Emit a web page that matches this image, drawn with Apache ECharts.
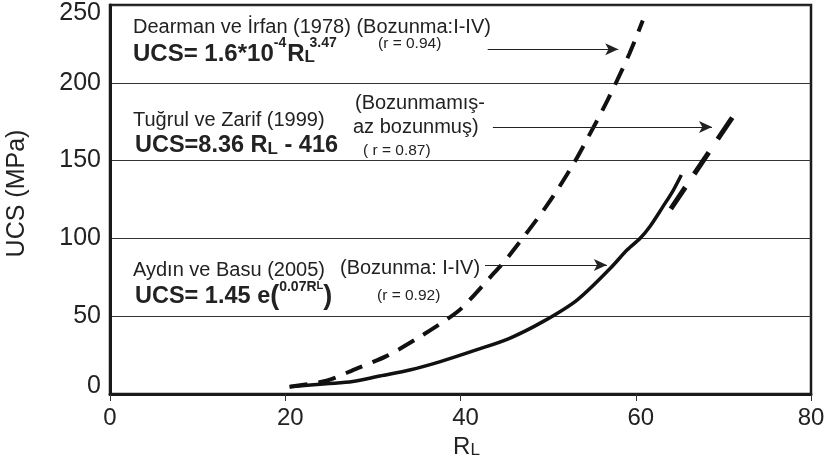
<!DOCTYPE html>
<html>
<head>
<meta charset="utf-8">
<script src="https://cdn.jsdelivr.net/npm/echarts@6/dist/echarts.min.js"></script>
<style>
  html, body { margin: 0; padding: 0; background: #fff; }
  #chart { width: 825px; height: 466px; }
</style>
</head>
<body>
<div id="chart"></div>
<script>
// Axis ticks
const xTicks = [0, 20, 40, 60, 80];
const yTicks = [0, 50, 100, 150, 200, 250];

// Dearman ve İrfan (1978) curve: RL and UCS (MPa)
const dearmanRL  = [20.5, 24.7, 28.2, 31.6, 35.0, 38.2, 40.1, 43.7, 45.5, 49.9, 52.8, 54.8, 56.8, 59.3, 60.8];
const dearmanUCS = [4.7, 8.5, 16.5, 24.5, 35.5, 47.0, 55.0, 77.0, 88.5, 121.5, 147, 167.5, 189, 219, 240];

// Aydın ve Basu (2005) curve
const aydinRL  = [20.5, 24.7, 27.7, 30.8, 34.2, 37.7, 41.8, 45.6, 49.4, 53.3, 57.1, 59.0, 60.5, 61.6, 63.1, 64.3, 65.2];
const aydinUCS = [4.7, 6.6, 8.0, 11.6, 15.4, 20.8, 28.3, 35.8, 46.5, 60.4, 80.8, 92.5, 100.1, 107.5, 120.4, 131.1, 140.7];

// Tuğrul ve Zarif (1999) line: UCS = 8.36 RL - 416
const tugrulRL  = [64.0, 72.0];
const tugrulUCS = [119.0, 185.9];

// Pointer arrows from each annotation to its curve: [RL, UCS] start and end
const arrowDearman = [[43.1, 221.5], [58.0, 221.5]];
const arrowTugrul  = [[43.7, 171.6], [68.7, 171.6]];
const arrowAydin   = [[42.8, 82.9], [56.7, 82.9]];

const pair = (xs, ys) => xs.map((x, i) => [x, ys[i]]);

const FONT_NAME = 'Liberation Sans';
const FONT = "'Liberation Sans', Arial, Helvetica, sans-serif";
const INK = '#222222';

const chart = echarts.init(document.getElementById('chart'), null, { renderer: 'canvas' });

function arrowLine(seg) {
  return [{ coord: seg[0] }, { coord: seg[1] }];
}

function txt(x, y, text, size) {
  return {
    type: 'text', x: x, y: y, z: 10,
    style: {
      text: text, fontFamily: FONT, fontSize: size, fill: INK,
      verticalAlign: 'middle', align: 'left'
    }
  };
}

// Equations are laid out piece by piece: each piece has its own size and a
// vertical offset (superscripts up, the small "L" slightly down).
const measureCtx = document.createElement('canvas').getContext('2d');
function measure(text, size, bold) {
  measureCtx.font = (bold ? 'bold ' : '') + size + "px '" + FONT_NAME + "', Arial, sans-serif";
  return measureCtx.measureText(text).width;
}
function equation(x, y, pieces) {
  const out = [];
  let cx = x;
  pieces.forEach(function (p) {
    cx += p.gap || 0;
    out.push({
      type: 'text', x: cx, y: y + (p.dy || 0), z: 10,
      style: {
        text: p.t, fontFamily: FONT, fontWeight: 'bold', fontSize: p.s, fill: INK,
        verticalAlign: 'middle', align: 'left'
      }
    });
    if (!p.noAdvance) cx += measure(p.t, p.s, true);
  });
  return out;
}

const option = {
  backgroundColor: '#ffffff',
  animation: false,
  grid: {
    left: 110, right: 14, top: 5, bottom: 72,
    outerBoundsMode: 'none', containLabel: false,
    show: true, borderColor: '#1a1a1a', borderWidth: 2.5, backgroundColor: 'transparent'
  },
  xAxis: {
    type: 'value', min: xTicks[0], max: xTicks[xTicks.length - 1], interval: 20,
    name: '{r|R}{l|L}', nameLocation: 'middle', nameGap: 38,
    nameTextStyle: {
      padding: [0, 0, 0, 12],
      rich: {
        r: { fontFamily: FONT, fontSize: 24, color: INK, verticalAlign: 'bottom', lineHeight: 26 },
        l: { fontFamily: FONT, fontSize: 17, color: INK, verticalAlign: 'bottom', lineHeight: 21 }
      }
    },
    axisLine: { show: true, lineStyle: { color: '#1a1a1a', width: 3 } },
    axisTick: { show: true, length: 7, lineStyle: { color: '#333', width: 1 } },
    axisLabel: {
      fontFamily: FONT, fontSize: 24, color: INK, margin: 12,
      formatter: function (v) {
        return (v > 0 && v < 80) ? '{mid|' + v + '}' : String(v);
      },
      rich: { mid: { fontFamily: FONT, fontSize: 24, color: INK, padding: [0, 0, 0, 10] } }
    },
    splitLine: { show: false }
  },
  yAxis: {
    type: 'value', min: yTicks[0], max: yTicks[yTicks.length - 1], interval: 50,
    name: 'UCS (MPa)', nameLocation: 'middle', nameGap: 80, nameRotate: 90,
    nameTextStyle: { fontFamily: FONT, fontSize: 25, color: INK, padding: [0, 0, 0, 12] },
    axisLine: { show: true, lineStyle: { color: '#1a1a1a', width: 3 } },
    axisTick: { show: false },
    axisLabel: {
      fontFamily: FONT, fontSize: 25, color: INK, margin: 9,
      formatter: function (v) {
        if (v === 250) return '{top|' + v + '}';
        if (v === 0) return '{bot|' + v + '}';
        return String(v);
      },
      rich: {
        top: { fontFamily: FONT, fontSize: 25, color: INK, padding: [16, 0, 0, 0] },
        bot: { fontFamily: FONT, fontSize: 25, color: INK, padding: [0, 0, 16, 0] }
      }
    },
    splitLine: { show: true, lineStyle: { color: '#333', width: 1.2 } }
  },
  series: [
    {
      name: 'Dearman ve İrfan (1978)', type: 'line', smooth: 0.3, symbol: 'none',
      data: pair(dearmanRL, dearmanUCS),
      lineStyle: { color: '#111', width: 4, type: [18, 11], cap: 'butt' },
      markLine: {
        silent: true, symbol: ['none', 'arrow'], symbolSize: [9, 13],
        label: { show: false },
        lineStyle: { color: '#222', width: 1.2, type: 'solid' },
        data: [arrowLine(arrowDearman), arrowLine(arrowTugrul), arrowLine(arrowAydin)]
      }
    },
    {
      name: 'Aydın ve Basu (2005)', type: 'line', smooth: 0.3, symbol: 'none',
      data: pair(aydinRL, aydinUCS),
      lineStyle: { color: '#111', width: 3.5, type: 'solid' }
    },
    {
      name: 'Tuğrul ve Zarif (1999)', type: 'line', symbol: 'none',
      data: pair(tugrulRL, tugrulUCS),
      lineStyle: { color: '#111', width: 5, type: [26, 16], cap: 'butt' }
    }
  ],
  graphic: [].concat(
    [
      txt(133, 27, 'Dearman ve İrfan (1978) (Bozunma:I-IV)', 20),
      txt(378, 44, '(r = 0.94)', 15.5),
      txt(355, 103, '(Bozunmamış-', 20),
      txt(133, 120, 'Tuğrul ve Zarif (1999)', 20),
      txt(353, 127, 'az bozunmuş)', 20),
      txt(363, 151, '( r = 0.87)', 15.5),
      txt(133, 270, 'Aydın ve Basu (2005)', 20),
      txt(340, 268, '(Bozunma: I-IV)', 20),
      txt(377, 296, '(r = 0.92)', 15.5)
    ],
    equation(133, 54, [
      { t: 'UCS= 1.6*10', s: 24 },
      { t: '-4', s: 14, dy: -11 },
      { t: 'R', s: 24, gap: 1 },
      { t: 'L', s: 17, dy: 3.5, noAdvance: true },
      { t: '3.47', s: 14, dy: -11, gap: 5 }
    ]),
    equation(135, 146, [
      { t: 'UCS=8.36 R', s: 23.5 },
      { t: 'L', s: 17, dy: 3 },
      { t: ' - 416', s: 23.5 }
    ]),
    equation(135, 297, [
      { t: 'UCS= 1.45 e', s: 23.5 },
      { t: '(', s: 27, dy: 0 },
      { t: '0.07R', s: 14, dy: -10 },
      { t: 'L', s: 11, dy: -11 },
      { t: ')', s: 27, dy: 0 }
    ])
  )
};

chart.setOption(option);
</script>
</body>
</html>
